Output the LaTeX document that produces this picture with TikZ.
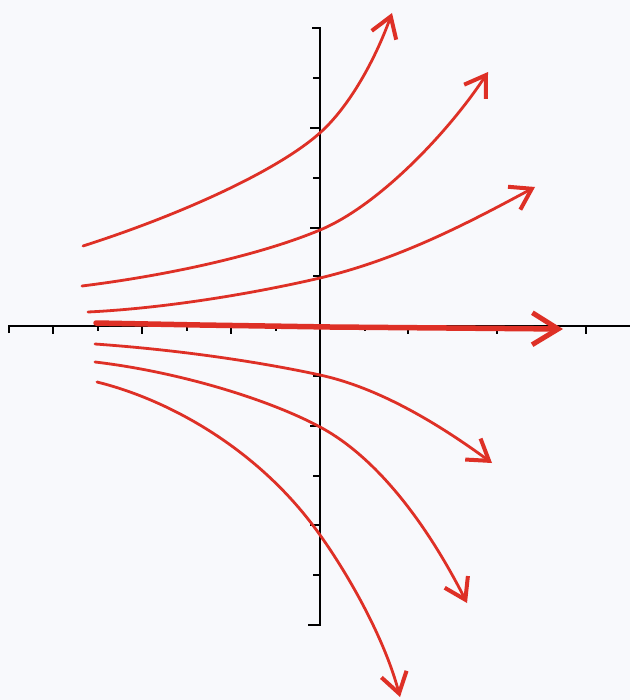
\documentclass[tikz,border=0pt]{standalone}
\usetikzlibrary{arrows.meta}
\definecolor{pen}{RGB}{222,48,38}
\definecolor{paper}{RGB}{248,249,252}
\tikzset{
  axisline/.style={black,line width=1.8pt},
  tick/.style={black,line width=1.5pt},
  flow/.style={pen,line width=2.8pt,line cap=round,line join=round,
    -{Straight Barb[length=20pt,width=26pt,line width=4pt]}},
  flowaxis/.style={pen,line width=5.5pt,line cap=round,
    -{Straight Barb[length=26pt,width=32pt,line width=5pt]}},
}
\begin{document}
\begin{tikzpicture}[x=1pt,y=-1pt]
\fill[paper] (0,0) rectangle (630,700);
\useasboundingbox (0,0) rectangle (630,700);
% horizontal axis
\draw[axisline] (9,333) -- (9,326) -- (630,326);
\foreach \x in {53,142,231,408,497,586} \draw[tick] (\x,326) -- (\x,334);
\foreach \x in {98,187,276,365,453,542} \draw[tick] (\x,326) -- (\x,331);
% vertical axis
\draw[axisline] (312,28) -- (320,28) -- (320,625) -- (308,625);
\foreach \y in {128,228,426,525} \draw[tick] (320,\y) -- (310,\y);
\foreach \y in {78,178,276,376,476,575} \draw[tick] (320,\y) -- (313,\y);
% trajectories
\draw[flow] (83,246) .. controls (180,215) and (280,170) .. (322,131)
                     .. controls (350,105) and (375,60) .. (392,13);
\draw[flow] (82,286) .. controls (170,275) and (260,255) .. (320,230)
                     .. controls (380,205) and (450,130) .. (488,72);
\draw[flow] (88,312) .. controls (170,308) and (260,292) .. (320,278)
                     .. controls (400,259) and (470,222) .. (535,187);
\draw[flowaxis] (96,323) -- (200,325) -- (330,327) -- (563,329);
\draw[flow] (95,344) .. controls (180,350) and (260,362) .. (320,375)
                     .. controls (380,388) and (440,425) .. (492,463);
\draw[flow] (95,362) .. controls (180,372) and (270,400) .. (320,427)
                     .. controls (380,459) and (430,530) .. (467,603);
\draw[flow] (97,382) .. controls (170,400) and (260,450) .. (320,535)
                     .. controls (350,577) and (385,640) .. (400,697);
\end{tikzpicture}
\end{document}
